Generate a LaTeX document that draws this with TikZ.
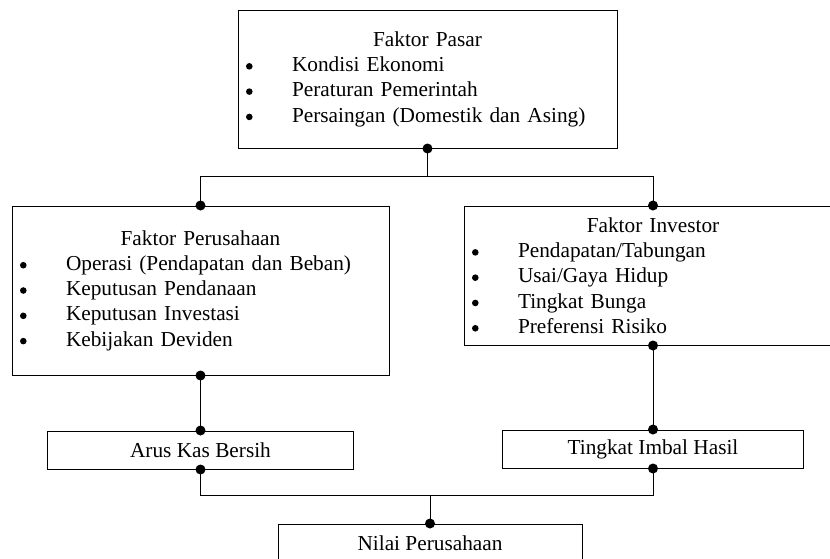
\documentclass[tikz,border=0pt]{standalone}
\usepackage{fontspec}
\setmainfont{Liberation Serif}
\usetikzlibrary{positioning}
\newcommand{\bul}{\makebox[46pt][l]{\tikz[baseline=-0.24em]\fill (3.5pt,0pt) circle (3.3pt);}}

\begin{document}
\begin{tikzpicture}[x=1pt,y=-1pt, every node/.style={font=\fontsize{21.3}{25.3}\selectfont},
        factorbox/.style={rectangle,draw,line width=1pt,align=left,inner xsep=8pt,inner ysep=0pt},
        resultbox/.style={rectangle,draw,line width=1pt,minimum height=38pt,inner sep=0pt},
        link/.style={line width=1pt}]
        \useasboundingbox (0,0) rectangle (830,558);
        \clip (0,0) rectangle (830,558);
        % factor boxes
        \node[factorbox,text width=363pt,minimum height=138pt] (pasar) at (427.5,79)
          {\makebox[\linewidth][c]{Faktor Pasar}\\
           \bul Kondisi Ekonomi\\
           \bul Peraturan Pemerintah\\
           \bul Persaingan (Domestik dan Asing)};
        \node[factorbox,text width=361pt,minimum height=169pt] (perusahaan) at (200.5,290.5)
          {\makebox[\linewidth][c]{Faktor Perusahaan}\\
           \bul Operasi (Pendapatan dan Beban)\\
           \bul Keputusan Pendanaan\\
           \bul Keputusan Investasi\\
           \bul Kebijakan Deviden};
        \node[factorbox,text width=362pt,minimum height=139pt] (investor) at (653,275.5)
          {\makebox[\linewidth][c]{Faktor Investor}\\
           \bul Pendapatan/Tabungan\\
           \bul Usai/Gaya Hidup\\
           \bul Tingkat Bunga\\
           \bul Preferensi Risiko};
        % result boxes
        \node[resultbox,minimum width=306pt,below=55pt of perusahaan] (arus) {Arus Kas Bersih};
        \node[resultbox,minimum width=301pt,below=84pt of investor] (imbal) {Tingkat Imbal Hasil};
        \node[resultbox,minimum width=304pt] (nilai) at (430,543) {Nilai Perusahaan};
        % connectors
        \draw[link] (pasar.south) -- ++(0,28) coordinate (split);
        \draw[link] (perusahaan.north) |- (split) -| (investor.north);
        \draw[link] (perusahaan.south) -- (arus.north);
        \draw[link] (investor.south) -- (imbal.north);
        \draw[link] (nilai.north) -- ++(0,-28) coordinate (merge);
        \draw[link] (arus.south) |- (merge) -| (imbal.south);
        \foreach \a in {pasar.south,perusahaan.north,investor.north,perusahaan.south,
            investor.south,arus.north,imbal.north,arus.south,imbal.south,nilai.north}
          \fill (\a) circle (5pt);
      \end{tikzpicture}
\end{document}
